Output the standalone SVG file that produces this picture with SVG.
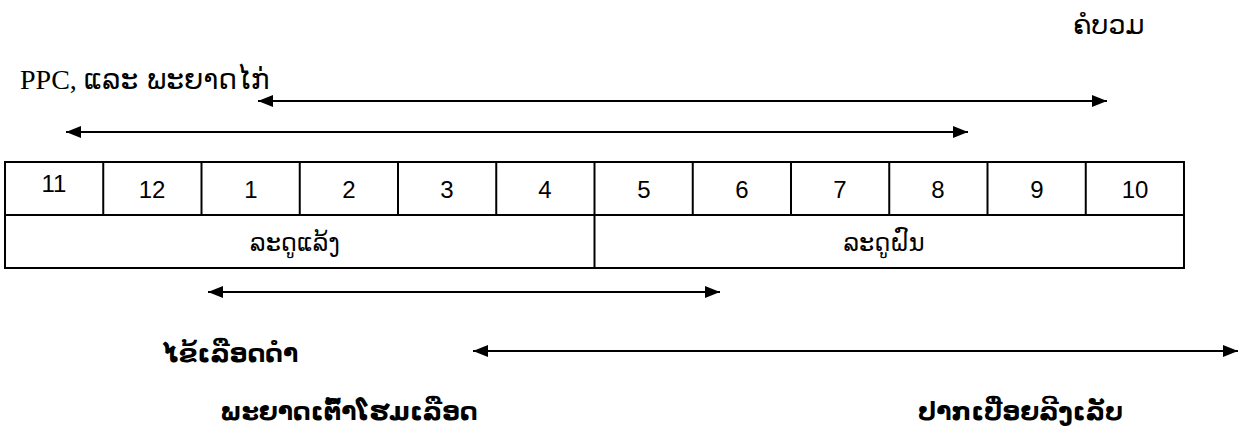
<svg xmlns="http://www.w3.org/2000/svg" width="1240" height="427" viewBox="0 0 1240 427">
  <defs>
    <marker id="head" markerUnits="userSpaceOnUse" markerWidth="16" markerHeight="14" refX="15" refY="7" orient="auto-start-reverse">
      <path d="M0,1 L15,7 L0,13 Z" fill="#000"/>
    </marker>
    <style>
      .grid { fill: none; stroke: #000; stroke-width: 2; }
      .num { font-family: "Liberation Sans", Arial, sans-serif; font-size: 24px; fill: #000; text-anchor: middle; }
      .lao { font-family: "DejaVu Sans", "Noto Sans", sans-serif; font-size: 24px; fill: #000; }
      .laob { font-family: "DejaVu Sans", "Noto Sans", sans-serif; font-size: 25px; font-weight: bold; fill: #000; }
      .ser { font-family: "Liberation Serif", "Times New Roman", serif; font-size: 28px; fill: #000; }
      .conn line { stroke: #000; stroke-width: 2; marker-start: url(#head); marker-end: url(#head); }
    </style>
  </defs>
  <rect width="1240" height="427" fill="#fff"/>

  <!-- disease labels above the calendar -->
  <g id="label-kobuam">
    <text class="lao" x="1073" y="34" style="font-size:27px">ຄໍບວມ</text>
  </g>
  <g id="label-ppc">
    <text class="ser" x="20" y="89">PPC, <tspan class="lao" style="font-size:28px">ແລະ ພະຍາດໄກ່</tspan></text>
  </g>

  <!-- month calendar -->
  <g id="calendar">
    <rect class="grid" x="5" y="162" width="1179" height="106"/>
    <line class="grid" x1="5" y1="215" x2="1184" y2="215"/>
    <g class="grid">
      <line x1="103.25" y1="162" x2="103.25" y2="215"/>
      <line x1="201.5" y1="162" x2="201.5" y2="215"/>
      <line x1="299.75" y1="162" x2="299.75" y2="215"/>
      <line x1="398" y1="162" x2="398" y2="215"/>
      <line x1="496.25" y1="162" x2="496.25" y2="215"/>
      <line x1="594.5" y1="162" x2="594.5" y2="268"/>
      <line x1="692.75" y1="162" x2="692.75" y2="215"/>
      <line x1="791" y1="162" x2="791" y2="215"/>
      <line x1="889.25" y1="162" x2="889.25" y2="215"/>
      <line x1="987.5" y1="162" x2="987.5" y2="215"/>
      <line x1="1085.75" y1="162" x2="1085.75" y2="215"/>
    </g>
    <text class="num" x="54" y="192">11</text>
    <text class="num" x="152" y="198">12</text>
    <text class="num" x="251" y="198">1</text>
    <text class="num" x="349" y="198">2</text>
    <text class="num" x="447" y="198">3</text>
    <text class="num" x="545" y="198">4</text>
    <text class="num" x="644" y="198">5</text>
    <text class="num" x="742" y="198">6</text>
    <text class="num" x="840" y="198">7</text>
    <text class="num" x="938" y="198">8</text>
    <text class="num" x="1037" y="198">9</text>
    <text class="num" x="1135" y="198">10</text>
  </g>
  <g id="season-dry">
    <text class="lao" x="295" y="251" text-anchor="middle">ລະດູແລ້ງ</text>
  </g>
  <g id="season-wet">
    <text class="lao" x="884" y="251" text-anchor="middle">ລະດູຝົນ</text>
  </g>

  <!-- disease labels below the calendar -->
  <g id="label-haemo">
    <text class="laob" x="163" y="362">ໄຂ້ເລືອດດຳ</text>
  </g>
  <g id="label-septic">
    <text class="laob" x="220" y="420">ພະຍາດເຕົ້າໂຮມເລືອດ</text>
  </g>
  <g id="label-fmd">
    <text class="laob" x="918" y="420">ປາກເປື່ອຍລີງເລັບ</text>
  </g>

  <!-- season spans -->
  <g class="conn" id="connectors">
    <line x1="258" y1="101" x2="1107" y2="101"/>
    <line x1="66" y1="132" x2="968" y2="132"/>
    <line x1="208" y1="292" x2="720" y2="292"/>
    <line x1="473" y1="351" x2="1238" y2="351"/>
  </g>
</svg>
